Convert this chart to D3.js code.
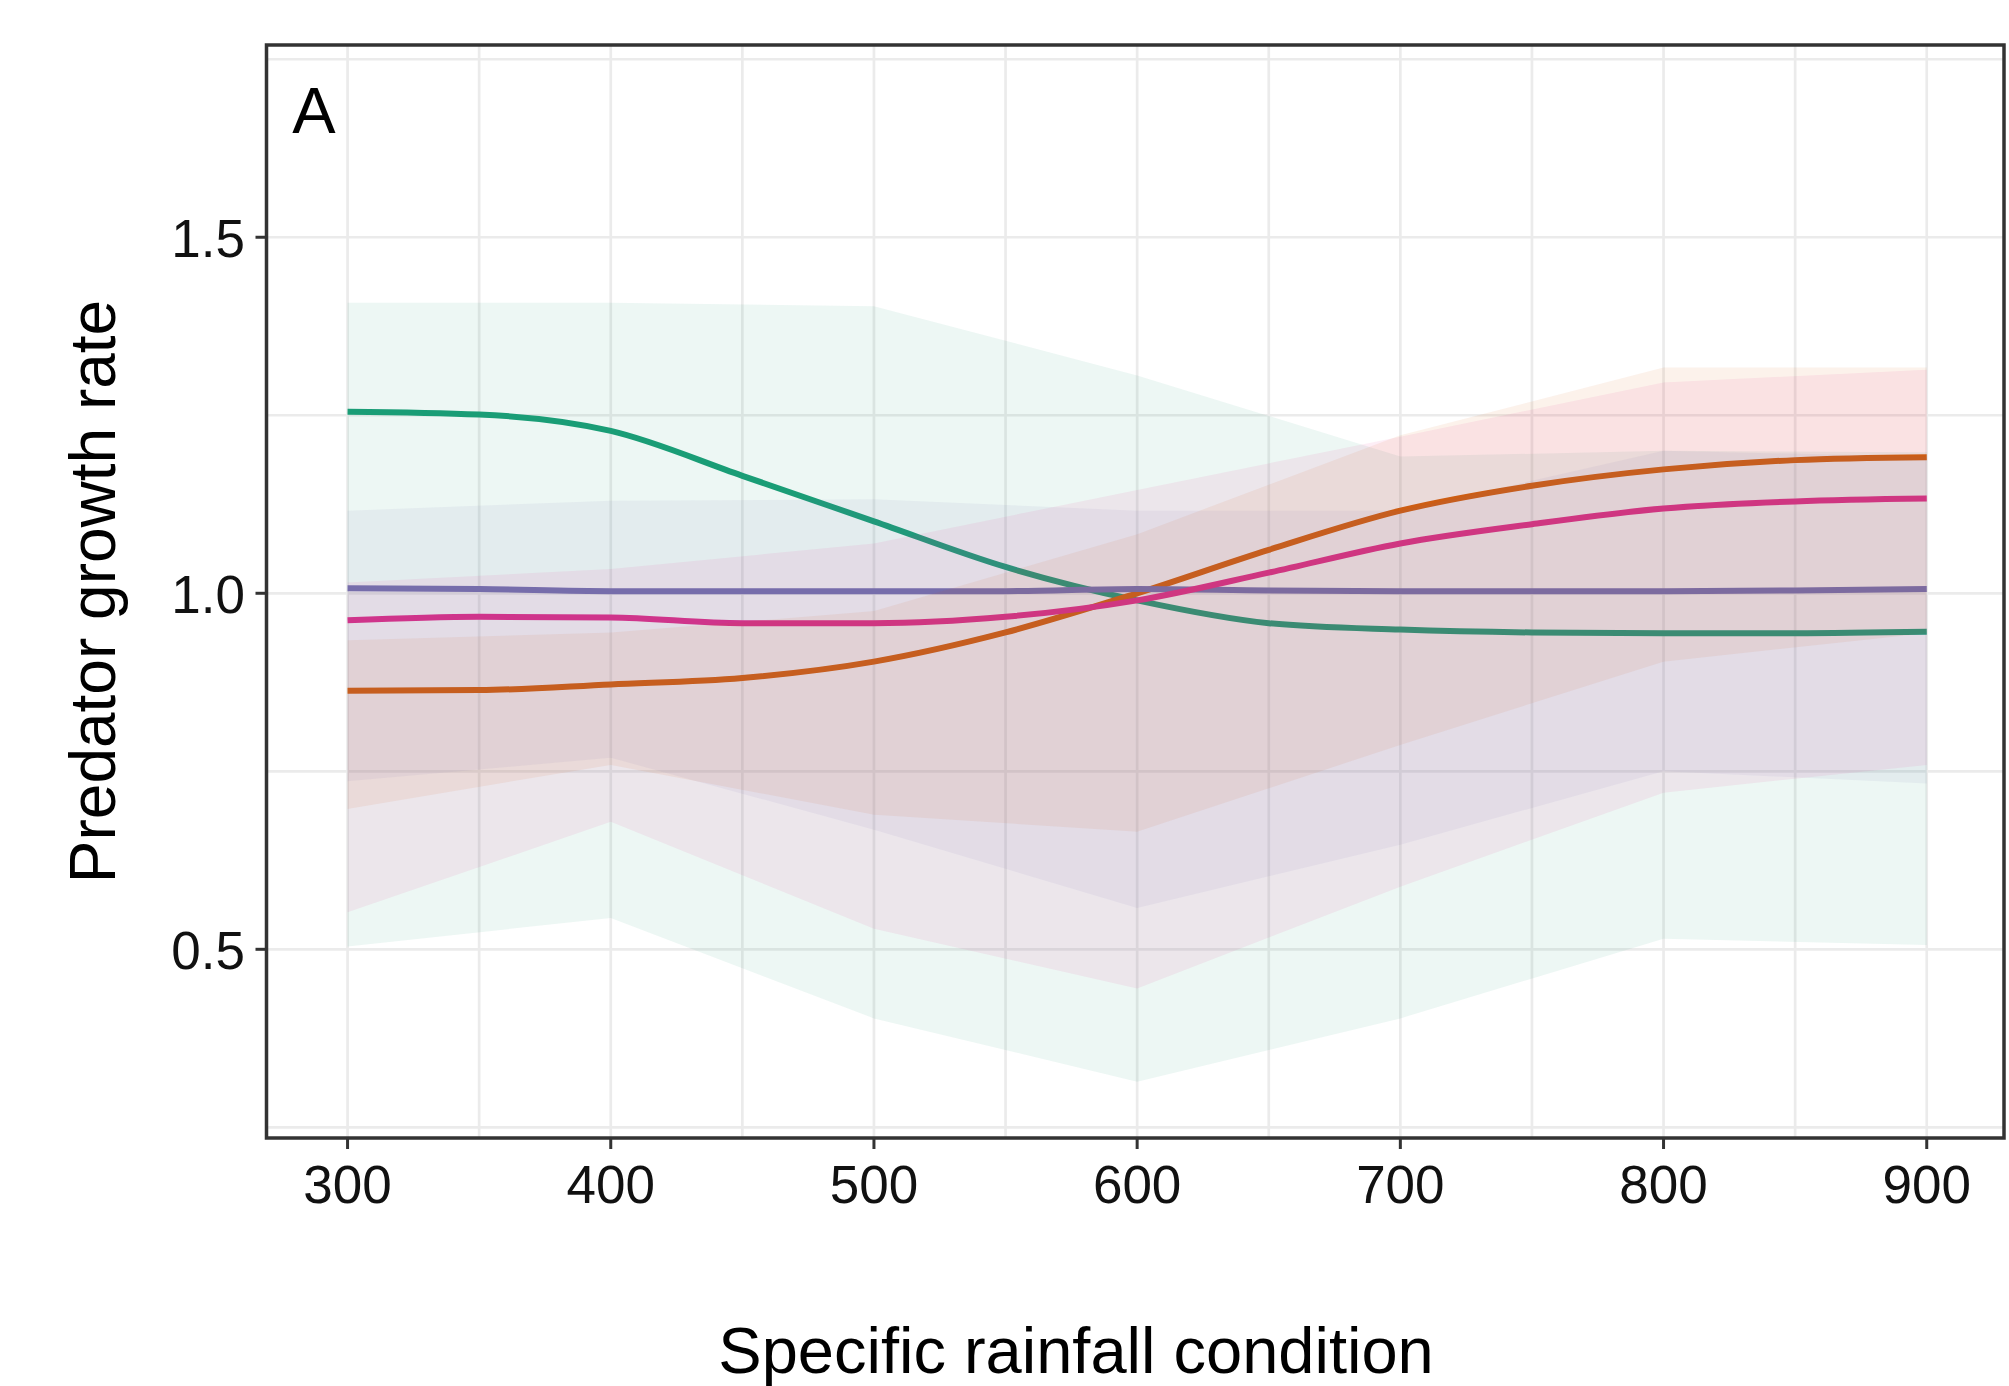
<!DOCTYPE html>
<html>
<head>
<meta charset="utf-8">
<script src="https://cdn.jsdelivr.net/npm/d3@7"></script>
<style>
  body { margin: 0; background: #fff; }
  text { font-family: "Liberation Sans", Arial, sans-serif; }
</style>
</head>
<body>
<script>
// rainfall values where the fitted lines were read (every 50)
var rainfall = [300, 350, 400, 450, 500, 550, 600, 650, 700, 750, 800, 850, 900];
// ribbon knots (every 100)
var knots = [300, 400, 500, 600, 700, 800, 900];

var lineGreen  = [1.255, 1.251, 1.228, 1.165, 1.101, 1.037, 0.990, 0.958, 0.949, 0.945, 0.944, 0.944, 0.946];
var lineOrange = [0.863, 0.864, 0.872, 0.881, 0.904, 0.945, 1.000, 1.061, 1.116, 1.151, 1.174, 1.187, 1.191];
var linePurple = [1.007, 1.006, 1.003, 1.003, 1.003, 1.003, 1.006, 1.004, 1.003, 1.003, 1.003, 1.004, 1.006];
var linePink   = [0.962, 0.967, 0.966, 0.958, 0.958, 0.967, 0.990, 1.029, 1.070, 1.097, 1.119, 1.129, 1.133];

var lowGreen   = [0.504, 0.544, 0.403, 0.314, 0.403, 0.515, 0.506];
var highGreen  = [1.408, 1.408, 1.403, 1.306, 1.192, 1.200, 1.198];
var lowOrange  = [0.697, 0.759, 0.689, 0.665, 0.787, 0.904, 0.944];
var highOrange = [0.934, 0.945, 0.975, 1.083, 1.222, 1.317, 1.317];
var lowPurple  = [0.736, 0.769, 0.668, 0.558, 0.647, 0.750, 0.733];
var highPurple = [1.116, 1.130, 1.132, 1.116, 1.116, 1.200, 1.192];
var lowPink    = [0.552, 0.679, 0.529, 0.445, 0.588, 0.720, 0.759];
var highPink   = [1.015, 1.034, 1.070, 1.145, 1.220, 1.296, 1.314];

var xTicks = [300, 400, 500, 600, 700, 800, 900];
var yTicks = [0.5, 1.0, 1.5];

var series = [
  {color: "#1B9E77", line: lineGreen,  low: lowGreen,  high: highGreen},
  {color: "#D95F02", line: lineOrange, low: lowOrange, high: highOrange},
  {color: "#7570B3", line: linePurple, low: lowPurple, high: highPurple},
  {color: "#E7298A", line: linePink,   low: lowPink,   high: highPink}
];

var width = 2009, height = 1386;
var panelL = 266.5, panelR = 2004, panelT = 45, panelB = 1138;

var x = d3.scaleLinear().domain([270, 930]).range([268.6, 2005.7]);
var y = d3.scaleLinear().domain([0.235, 1.77]).range([panelB, panelT]);

var svg = d3.select("body").append("svg")
    .attr("width", width)
    .attr("height", height);

svg.append("defs").append("clipPath").attr("id", "panel")
  .append("rect")
    .attr("x", panelL).attr("y", panelT)
    .attr("width", panelR - panelL).attr("height", panelB - panelT);

// grid
var grid = svg.append("g").attr("clip-path", "url(#panel)");
grid.selectAll("line.v")
    .data(d3.range(300, 901, 50))
  .enter().append("line")
    .attr("x1", function(d) { return x(d); })
    .attr("x2", function(d) { return x(d); })
    .attr("y1", panelT).attr("y2", panelB)
    .attr("stroke", "#ebebeb")
    .attr("stroke-width", 2.7);
grid.selectAll("line.h")
    .data([0.25, 0.5, 0.75, 1.0, 1.25, 1.5, 1.75])
  .enter().append("line")
    .attr("y1", function(d) { return y(d); })
    .attr("y2", function(d) { return y(d); })
    .attr("x1", panelL).attr("x2", panelR)
    .attr("stroke", "#ebebeb")
    .attr("stroke-width", 2.7);

var plot = svg.append("g").attr("clip-path", "url(#panel)");

// lines first, ribbons drawn over them
var line = d3.line()
    .x(function(d) { return x(d[0]); })
    .y(function(d) { return y(d[1]); })
    .curve(d3.curveMonotoneX);

plot.selectAll("path.fit")
    .data(series)
  .enter().append("path")
    .attr("class", "fit")
    .attr("fill", "none")
    .attr("stroke", function(d) { return d.color; })
    .attr("stroke-width", 6)
    .attr("d", function(d) {
      return line(rainfall.map(function(r, i) { return [r, d.line[i]]; }));
    });

var area = d3.area()
    .x(function(d) { return x(d[0]); })
    .y0(function(d) { return y(d[1]); })
    .y1(function(d) { return y(d[2]); });

plot.selectAll("path.band")
    .data(series)
  .enter().append("path")
    .attr("class", "band")
    .attr("fill", function(d) { return d.color; })
    .attr("fill-opacity", 0.08)
    .attr("d", function(d) {
      return area(knots.map(function(k, i) { return [k, d.low[i], d.high[i]]; }));
    });

// panel border
svg.append("rect")
    .attr("x", panelL).attr("y", panelT)
    .attr("width", panelR - panelL).attr("height", panelB - panelT)
    .attr("fill", "none")
    .attr("stroke", "#333333")
    .attr("stroke-width", 3.5);

// axes
var xAxis = svg.append("g");
xAxis.selectAll("line")
    .data(xTicks)
  .enter().append("line")
    .attr("x1", function(d) { return x(d); })
    .attr("x2", function(d) { return x(d); })
    .attr("y1", panelB).attr("y2", panelB + 11)
    .attr("stroke", "#333333").attr("stroke-width", 3);
xAxis.selectAll("text")
    .data(xTicks)
  .enter().append("text")
    .attr("x", function(d) { return x(d); })
    .attr("y", 1203)
    .attr("text-anchor", "middle")
    .attr("font-size", 53)
    .attr("fill", "#111")
    .text(function(d) { return d; });

var yAxis = svg.append("g");
yAxis.selectAll("line")
    .data(yTicks)
  .enter().append("line")
    .attr("y1", function(d) { return y(d); })
    .attr("y2", function(d) { return y(d); })
    .attr("x1", panelL - 11).attr("x2", panelL)
    .attr("stroke", "#333333").attr("stroke-width", 3);
yAxis.selectAll("text")
    .data(yTicks)
  .enter().append("text")
    .attr("x", 245)
    .attr("y", function(d) { return y(d) + 20; })
    .attr("text-anchor", "end")
    .attr("font-size", 53)
    .attr("fill", "#111")
    .text(function(d) { return d3.format(".1f")(d); });

// titles
svg.append("text")
    .attr("x", 1076).attr("y", 1373)
    .attr("text-anchor", "middle")
    .attr("font-size", 65)
    .attr("fill", "#000")
    .text("Specific rainfall condition");

svg.append("text")
    .attr("transform", "translate(115," + (panelT + panelB) / 2 + ")rotate(-90)")
    .attr("text-anchor", "middle")
    .attr("font-size", 64)
    .attr("fill", "#000")
    .text("Predator growth rate");

// panel tag
svg.append("text")
    .attr("x", x(279)).attr("y", y(1.646))
    .attr("font-size", 65)
    .attr("fill", "#000")
    .text("A");
</script>
</body>
</html>
